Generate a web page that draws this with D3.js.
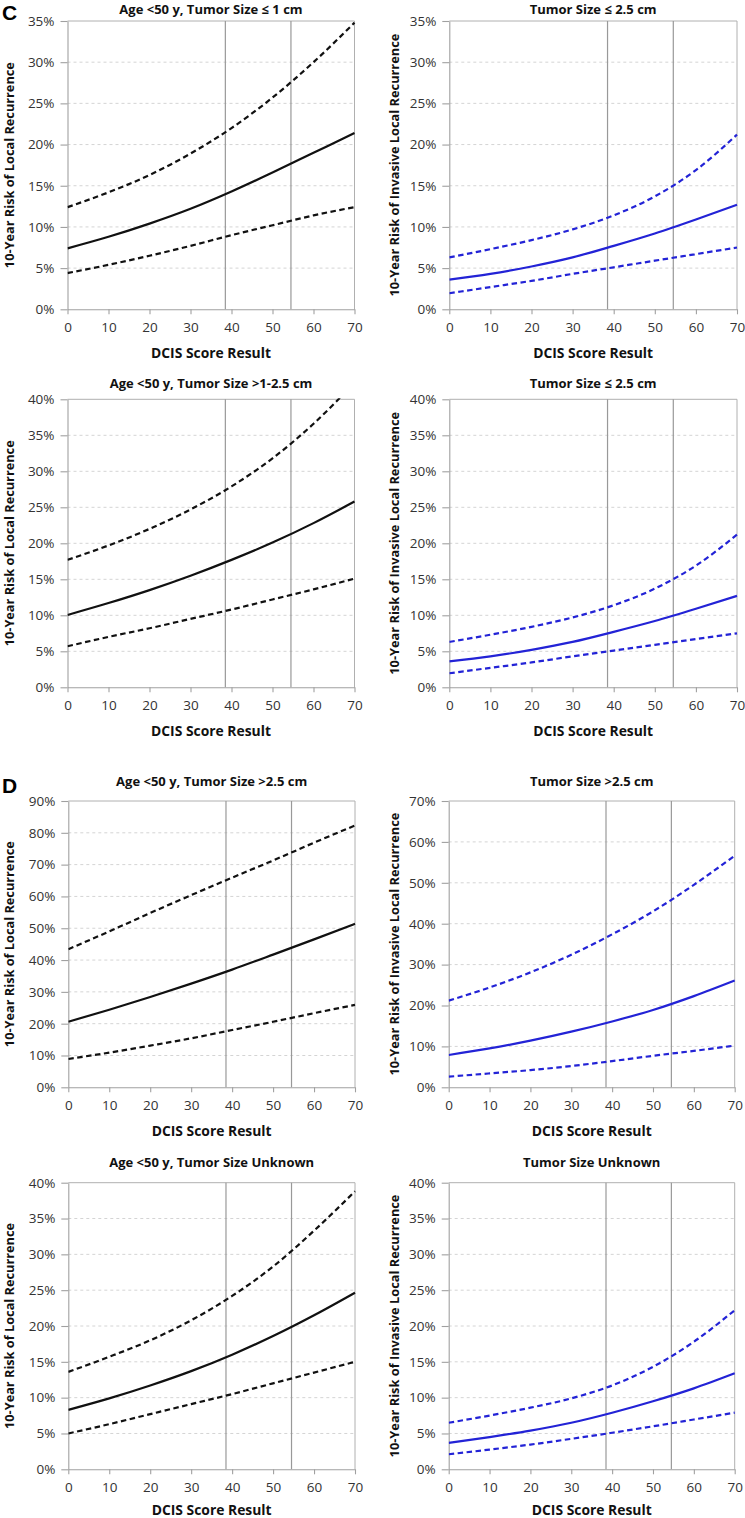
<!DOCTYPE html>
<html>
<head>
<meta charset="utf-8">
<script src="https://cdn.jsdelivr.net/npm/d3@7"></script>
<style>
  html, body { margin: 0; padding: 0; background: #fff; }
  svg { display: block; }
</style>
</head>
<body>
<svg id="chart" width="745" height="1518"></svg>
<script>
// ---------------- DATA ----------------
const xValues = [0, 10, 20, 30, 40, 50, 60, 70];
const xTicks = [0, 10, 20, 30, 40, 50, 60, 70];
const thresholds = [38.5, 54.5];

const panelTitles = [
  "Age <50 y, Tumor Size \u2264 1 cm",
  "Tumor Size \u2264 2.5 cm",
  "Age <50 y, Tumor Size >1-2.5 cm",
  "Tumor Size \u2264 2.5 cm",
  "Age <50 y, Tumor Size >2.5 cm",
  "Tumor Size >2.5 cm",
  "Age <50 y, Tumor Size Unknown",
  "Tumor Size Unknown"
];
const yTitles = [
  "10-Year Risk of Local Recurrence",
  "10-Year Risk of Invasive Local Recurrence"
];
const xTitle = "DCIS Score Result";
const sectionLabels = ["C", "D"];

// y-axis maxima and tick steps (percent)
const yMax = [35, 35, 40, 40, 90, 70, 40, 40];
const yStep = [5, 5, 5, 5, 10, 10, 5, 5];

// Panel 1: Age <50 y, Tumor Size <= 1 cm (any local recurrence)
const p1Est   = [7.4, 8.8, 10.4, 12.2, 14.3, 16.6, 19.0, 21.4];
const p1Upper = [12.4, 14.2, 16.3, 18.9, 22.0, 25.7, 30.0, 34.8];
const p1Lower = [4.4, 5.4, 6.5, 7.7, 9.0, 10.2, 11.4, 12.4];

// Panel 2: Tumor Size <= 2.5 cm (invasive)
const p2Est   = [3.6, 4.3, 5.2, 6.3, 7.7, 9.2, 10.9, 12.7];
const p2Upper = [6.3, 7.3, 8.4, 9.7, 11.4, 13.7, 16.9, 21.2];
const p2Lower = [1.95, 2.7, 3.45, 4.3, 5.1, 5.9, 6.7, 7.5];

// Panel 3: Age <50 y, Tumor Size >1-2.5 cm
const p3Est   = [10.05, 11.7, 13.5, 15.5, 17.7, 20.1, 22.8, 25.8];
const p3Upper = [17.7, 19.7, 22.0, 24.7, 27.9, 31.8, 36.6, 42.3];
const p3Lower = [5.7, 7.0, 8.2, 9.5, 10.8, 12.2, 13.6, 15.1];

// Panel 4: Tumor Size <= 2.5 cm (invasive)
const p4Est   = [3.6, 4.3, 5.2, 6.3, 7.7, 9.2, 10.9, 12.7];
const p4Upper = [6.3, 7.3, 8.4, 9.7, 11.4, 13.7, 16.9, 21.2];
const p4Lower = [1.95, 2.7, 3.45, 4.3, 5.1, 5.9, 6.7, 7.5];

// Panel 5: Age <50 y, Tumor Size >2.5 cm
const p5Est   = [20.6, 24.4, 28.4, 32.6, 37.0, 41.7, 46.5, 51.4];
const p5Upper = [43.4, 49.0, 54.8, 60.4, 65.9, 71.3, 76.9, 82.3];
const p5Lower = [8.9, 10.9, 13.1, 15.4, 18.0, 20.6, 23.3, 25.9];

// Panel 6: Tumor Size >2.5 cm (invasive)
const p6Est   = [7.9, 9.5, 11.4, 13.6, 16.1, 18.9, 22.3, 26.1];
const p6Upper = [21.2, 24.4, 28.1, 32.4, 37.4, 43.0, 49.5, 56.6];
const p6Lower = [2.6, 3.4, 4.2, 5.2, 6.4, 7.7, 8.9, 10.2];

// Panel 7: Age <50 y, Tumor Size Unknown
const p7Est   = [8.3, 9.9, 11.7, 13.7, 16.0, 18.6, 21.5, 24.65];
const p7Upper = [13.6, 15.7, 18.0, 20.8, 24.2, 28.3, 33.3, 38.8];
const p7Lower = [5.0, 6.3, 7.7, 9.1, 10.5, 12.0, 13.5, 15.0];

// Panel 8: Tumor Size Unknown (invasive)
const p8Est   = [3.7, 4.5, 5.4, 6.5, 7.9, 9.5, 11.3, 13.4];
const p8Upper = [6.5, 7.5, 8.6, 9.9, 11.7, 14.3, 17.8, 22.2];
const p8Lower = [2.1, 2.75, 3.45, 4.25, 5.1, 6.0, 6.95, 7.9];

const panelSeries = [
  [p1Est, p1Upper, p1Lower],
  [p2Est, p2Upper, p2Lower],
  [p3Est, p3Upper, p3Lower],
  [p4Est, p4Upper, p4Lower],
  [p5Est, p5Upper, p5Lower],
  [p6Est, p6Upper, p6Lower],
  [p7Est, p7Upper, p7Lower],
  [p8Est, p8Upper, p8Lower]
];

// ---------------- LAYOUT / STYLE ----------------
const layout = [
  {x0: 67.5, x1: 354.5, y0: 21,     y1: 309.3,  tY: 14,   xtY: 357.5},
  {x0: 449.3, x1: 737,  y0: 21,     y1: 309.3,  tY: 14,   xtY: 357.5},
  {x0: 67.5, x1: 354.5, y0: 399.3,  y1: 687.3,  tY: 388,  xtY: 735.5},
  {x0: 449.3, x1: 737,  y0: 399.3,  y1: 687.3,  tY: 388,  xtY: 735.5},
  {x0: 68.3, x1: 355,   y0: 801,    y1: 1087.3, tY: 786,  xtY: 1135.5},
  {x0: 448.7, x1: 734.7,y0: 801,    y1: 1087.3, tY: 786,  xtY: 1135.5},
  {x0: 68.3, x1: 355,   y0: 1182.7, y1: 1469.3, tY: 1167, xtY: 1515},
  {x0: 448.7, x1: 734.7,y0: 1182.7, y1: 1469.3, tY: 1167, xtY: 1515}
];
const lineColors = ["#111111", "#2323d6"];
const FONT = "'Open Sans', Lato, sans-serif";

const svg = d3.select("#chart");

// scale a text's font-size so its rendered length matches a target width
function fitText(sel, target) {
  const base = parseFloat(sel.style("font-size"));
  const len = sel.node().getComputedTextLength();
  if (len > 0) sel.style("font-size", (base * target / len).toFixed(2) + "px");
}

layout.forEach((L, i) => {
  const col = i % 2;
  const x = d3.scaleLinear().domain([0, 70]).range([L.x0, L.x1]);
  const y = d3.scaleLinear().domain([0, yMax[i]]).range([L.y1, L.y0]);
  const yTickVals = d3.range(0, yMax[i] + 0.001, yStep[i]);
  const g = svg.append("g");

  // grid (dashed, light)
  g.append("g").selectAll("line").data(yTickVals.filter(v => v > 0 && v < yMax[i])).join("line")
    .attr("x1", L.x0).attr("x2", L.x1)
    .attr("y1", d => y(d)).attr("y2", d => y(d))
    .attr("stroke", "#d4d4d4").attr("stroke-width", 1).attr("stroke-dasharray", "3,3");

  // frame top & right
  g.append("line").attr("x1", L.x0).attr("x2", L.x1).attr("y1", L.y0).attr("y2", L.y0)
    .attr("stroke", "#b0b0b0").attr("stroke-width", 1);
  g.append("line").attr("x1", L.x1).attr("x2", L.x1).attr("y1", L.y0).attr("y2", L.y1)
    .attr("stroke", "#b0b0b0").attr("stroke-width", 1);

  // threshold lines
  g.append("g").selectAll("line").data(thresholds).join("line")
    .attr("x1", d => x(d)).attr("x2", d => x(d))
    .attr("y1", L.y0).attr("y2", L.y1)
    .attr("stroke", "#999").attr("stroke-width", 1.2);

  // axes
  const xAxis = d3.axisBottom(x).tickValues(xTicks).tickSize(5).tickSizeOuter(0).tickPadding(8);
  const yAxis = d3.axisLeft(y).tickValues(yTickVals).tickSize(7).tickSizeOuter(0)
    .tickPadding(6).tickFormat(d => d + "%");
  const gx = g.append("g").attr("transform", `translate(0,${L.y1})`).call(xAxis);
  const gy = g.append("g").attr("transform", `translate(${L.x0},0)`).call(yAxis);
  [gx, gy].forEach(a => {
    a.selectAll("path, line").attr("stroke", "#a0a0a0").attr("stroke-width", 1.1);
    a.selectAll("text").attr("fill", "#333").style("font-family", FONT).style("font-size", "13.5px");
  });

  // clip
  const clipId = "clip" + i;
  svg.append("clipPath").attr("id", clipId).append("rect")
    .attr("x", L.x0).attr("y", L.y0 - 1).attr("width", L.x1 - L.x0 + 2).attr("height", L.y1 - L.y0 + 1);

  const line = d3.line().x((d, k) => x(xValues[k])).y(d => y(d)).curve(d3.curveMonotoneX);
  const [est, up, lo] = panelSeries[i];
  const lg = g.append("g").attr("clip-path", `url(#${clipId})`);
  [up, lo].forEach(s => {
    lg.append("path").attr("d", line(s)).attr("fill", "none")
      .attr("stroke", lineColors[col]).attr("stroke-width", 2.2).attr("stroke-dasharray", "5.5,3.5");
  });
  lg.append("path").attr("d", line(est)).attr("fill", "none")
    .attr("stroke", lineColors[col]).attr("stroke-width", 2.2);

  // titles
  g.append("text").attr("x", (L.x0 + L.x1) / 2).attr("y", L.tY)
    .attr("text-anchor", "middle").style("font-family", FONT).style("font-weight", "bold")
    .style("font-size", "13px").attr("fill", "#111").text(panelTitles[i]);
  const xt = g.append("text").attr("x", (L.x0 + L.x1) / 2).attr("y", L.xtY)
    .attr("text-anchor", "middle").style("font-family", FONT).style("font-weight", "bold")
    .style("font-size", "14px").attr("fill", "#111").text(xTitle);
  fitText(xt, 120);
  const ytx = col === 0 ? 13.5 : 399;
  const yt = g.append("text").attr("transform", `translate(${ytx},${(L.y0 + L.y1) / 2}) rotate(-90)`)
    .attr("text-anchor", "middle").style("font-family", FONT).style("font-weight", "bold")
    .style("font-size", "14px").attr("fill", "#111").text(yTitles[col]);
  fitText(yt, col === 0 ? 206 : 263);
});

// section letters
svg.append("text").attr("x", 2).attr("y", 19.5).style("font-family", "'Liberation Sans', Arial, sans-serif")
  .style("font-weight", "bold").style("font-size", "21px").text(sectionLabels[0]);
svg.append("text").attr("x", 2).attr("y", 793).style("font-family", "'Liberation Sans', Arial, sans-serif")
  .style("font-weight", "bold").style("font-size", "21px").text(sectionLabels[1]);
</script>
</body>
</html>
